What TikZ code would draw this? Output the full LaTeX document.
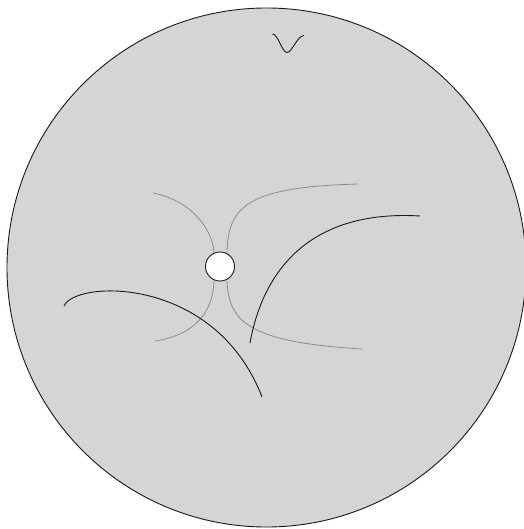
\documentclass[tikz,border=0pt]{standalone}
\definecolor{bgfill}{RGB}{212,214,214}
\definecolor{thin}{RGB}{140,140,140}
\tikzset{
  graycurve/.style={draw=thin, line width=0.8pt},
  blackcurve/.style={draw=black!90, line width=0.9pt},
  hole/.style={circle, draw=black!90, fill=white, line width=0.9pt, minimum size=29pt, inner sep=0pt}
}
\begin{document}
\begin{tikzpicture}[x=1pt,y=-1pt]
\useasboundingbox (0,0) rectangle (523,529);
\draw[fill=bgfill, draw=black!90, line width=0.9pt] (266.5,267.5) circle (259.5);
\node[hole] (h) at (220,266.5) {};
% gray curves
\draw[graycurve] (153,193) .. controls (190,200) and (212,228) .. (214,252);
\draw[graycurve] (227,252) .. controls (228,205) and (250,187) .. (358,184);
\draw[graycurve] (214,281) .. controls (213,312) and (195,335) .. (155,341);
\draw[graycurve] (227,281) .. controls (229,320) and (245,342) .. (362,349);
% black curves
\draw[blackcurve] (250,343) .. controls (265,260) and (320,210) .. (420,216);
\draw[blackcurve] (64,306) .. controls (75,280) and (215,275) .. (262,397);
% V mark
\draw[blackcurve] (272.5,34) .. controls (278,34) and (282,52.5) .. (287,52.5) .. controls (292,52.5) and (297,36) .. (304,35.5);
\end{tikzpicture}
\end{document}
